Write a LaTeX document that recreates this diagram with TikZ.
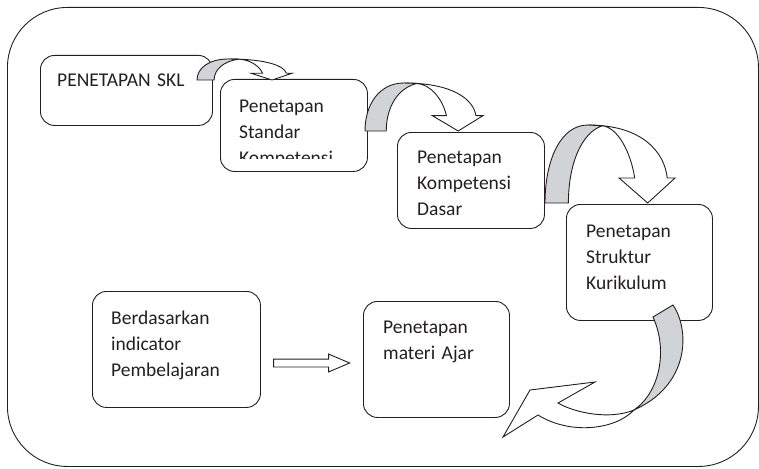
\documentclass[tikz,border=0pt]{standalone}
\usepackage{fontspec}
\setmainfont{Carlito}
\usetikzlibrary{shapes.arrows}

\definecolor{ribbon}{RGB}{210,211,213}
\definecolor{ink}{RGB}{35,31,32}

\tikzset{
  box/.style={draw=ink, line width=0.9pt, rounded corners=14pt, anchor=north west, inner sep=0pt},
  txt/.style={anchor=base west, inner sep=0pt, text width=150pt, align=left, font=\fontsize{19.5}{26}\selectfont, text=ink},
  curvedown/.pic={
    \draw[draw=ink, line width=0.9pt, fill=white] (0.33,0) .. controls (0.75,0) and (0.92,0.35) .. (0.94,0.68) -- (1,0.68) -- (0.79,1) -- (0.57,0.68) -- (0.69,0.68) .. controls (0.66,0.35) and (0.56,0.03) .. (0.44,0.01) -- cycle;
    \draw[draw=ink, line width=0.9pt, fill=ribbon] (0,1) .. controls (0,0.45) and (0.12,0) .. (0.33,0) -- (0.44,0.01) .. controls (0.28,0.1) and (0.18,0.5) .. (0.18,1) -- cycle;
  }
}

\begin{document}
\begin{tikzpicture}[x=1pt,y=1pt,yscale=-1,xscale=1]
\useasboundingbox (0,0) rectangle (759,468);

%Outer frame
\node[box, rounded corners=60pt, minimum width=751pt, minimum height=459pt] (frame) at (7,7) {};

%Boxes
\node[box, minimum width=172pt, minimum height=70pt] (skl) at (40,55) {};
\node[box, minimum width=147pt, minimum height=92pt] (standar) at (220,79) {};
\node[box, minimum width=147pt, minimum height=96pt] (dasar) at (397,132) {};
\node[box, minimum width=146pt, minimum height=116pt] (struktur) at (566,204) {};
\node[box, minimum width=168pt, minimum height=116pt] (indikator) at (92,291) {};
\node[box, minimum width=146pt, minimum height=116pt] (materi) at (363,301) {};

% Text Nodes
\node[txt] (skltext) at (57,87) {PENETAPAN SKL};
\begin{scope}
\clip (220,79) rectangle (367,158);
\node[txt] (standartext) at (239,112) {Penetapan\\Standar\\Kompetensi};
\end{scope}
\node[txt] (dasartext) at (417,163) {Penetapan\\Kompetensi\\Dasar};
\node[txt] (strukturtext) at (586,237) {Penetapan\\Struktur\\Kurikulum};
\node[txt] (indikatortext) at (111,324) {Berdasarkan\\indicator\\Pembelajaran};
\node[txt] (materitext) at (383,333) {Penetapan\\materi Ajar};

%Curved arrows (pic y runs downward)
\pic[xscale=95, yscale=-21] at (197,59) {curvedown};
\pic[xscale=118, yscale=-48] at (365,83) {curvedown};
\pic[xscale=130, yscale=-78] at (545,125) {curvedown};

%Curved arrow back to the left
\draw[draw=ink, line width=0.9pt, fill=white] (634,410) .. controls (615,430) and (570,435) .. (538,415) -- (503,437) -- (530,390) -- (595,382) -- (558,403) .. controls (575,413) and (610,420) .. (634,410) -- cycle;
\draw[draw=ink, line width=0.9pt, fill=ribbon] (653,317) -- (673,305) .. controls (690,330) and (690,385) .. (634,410) .. controls (660,392) and (668,350) .. (653,317) -- cycle;

%Hollow arrow
\node[single arrow, draw=ink, line width=0.9pt, minimum height=76pt, inner xsep=0pt, inner ysep=3.5pt, single arrow head extend=5pt, single arrow tip angle=46] (flow) at (307,363) {};

\end{tikzpicture}
\end{document}
